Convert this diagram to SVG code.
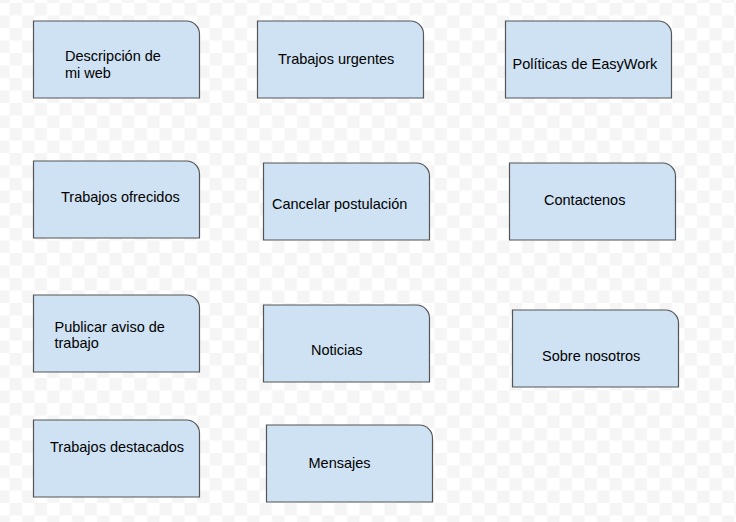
<svg xmlns="http://www.w3.org/2000/svg" width="736" height="522" viewBox="0 0 736 522">
<defs>
<pattern id="chk" patternUnits="userSpaceOnUse" x="9.5" y="3" width="25" height="25">
<rect width="25" height="25" fill="#ffffff"/>
<rect x="0" y="0" width="12.5" height="12.5" fill="#f5f5f5"/>
<rect x="12.5" y="12.5" width="12.5" height="12.5" fill="#f5f5f5"/>
</pattern>
</defs>
<style>
.box{fill:#cfe2f3;stroke:#555555;stroke-width:1.2}
.t{font-family:"Liberation Sans",Arial,sans-serif;font-size:14.5px;fill:#000000}
</style>
<rect width="736" height="522" fill="url(#chk)"/>
<g id="connectors"></g>
<g id="n1"><path class="box" d="M33.5,21 H186.5 A13,13 0 0 1 199.5,34 V98 H33.5 Z"/><text class="t" x="65" y="61">Descripción de</text><text class="t" x="65" y="77.5">mi web</text></g>
<g id="n2"><path class="box" d="M257.5,21 H410.5 A13,13 0 0 1 423.5,34 V98 H257.5 Z"/><text class="t" x="278" y="64">Trabajos urgentes</text></g>
<g id="n3"><path class="box" d="M505.5,21 H658.5 A13,13 0 0 1 671.5,34 V98 H505.5 Z"/><text class="t" x="512.5" y="69">Políticas de EasyWork</text></g>
<g id="n4"><path class="box" d="M33.5,161 H186.5 A13,13 0 0 1 199.5,174 V238 H33.5 Z"/><text class="t" x="61" y="202">Trabajos ofrecidos</text></g>
<g id="n5"><path class="box" d="M263.5,163 H416.5 A13,13 0 0 1 429.5,176 V240 H263.5 Z"/><text class="t" x="272" y="209">Cancelar postulación</text></g>
<g id="n6"><path class="box" d="M509.5,163 H662.5 A13,13 0 0 1 675.5,176 V240 H509.5 Z"/><text class="t" x="544" y="205">Contactenos</text></g>
<g id="n7"><path class="box" d="M33.5,295 H186.5 A13,13 0 0 1 199.5,308 V372 H33.5 Z"/><text class="t" x="54.5" y="331.5">Publicar aviso de</text><text class="t" x="54.5" y="348">trabajo</text></g>
<g id="n8"><path class="box" d="M263.5,305 H416.5 A13,13 0 0 1 429.5,318 V382 H263.5 Z"/><text class="t" x="311" y="355">Noticias</text></g>
<g id="n9"><path class="box" d="M512.5,310 H665.5 A13,13 0 0 1 678.5,323 V387 H512.5 Z"/><text class="t" x="542" y="361">Sobre nosotros</text></g>
<g id="n10"><path class="box" d="M33.5,420 H186.5 A13,13 0 0 1 199.5,433 V497 H33.5 Z"/><text class="t" x="50" y="452">Trabajos destacados</text></g>
<g id="n11"><path class="box" d="M266.5,425 H419.5 A13,13 0 0 1 432.5,438 V502 H266.5 Z"/><text class="t" x="308.5" y="468">Mensajes</text></g>
</svg>
